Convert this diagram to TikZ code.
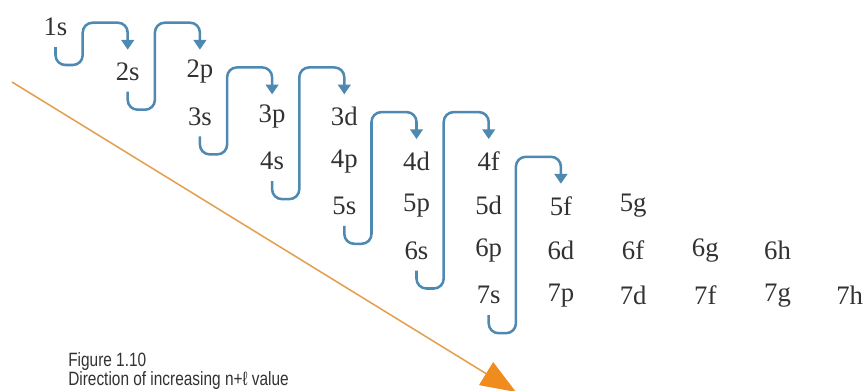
\documentclass[tikz,border=0pt]{standalone}
\usepackage{fontspec}
\newfontfamily\capfont[FakeStretch=0.8]{Liberation Sans}
\newfontfamily\orbfont{Liberation Serif}
\usetikzlibrary{arrows.meta,calc}

\definecolor{flowblue}{RGB}{78,137,178}
\definecolor{dirorange}{RGB}{240,140,30}
\definecolor{lineorange}{RGB}{226,160,80}
\definecolor{labelgray}{RGB}{50,50,50}

\tikzset{
  orb/.style={text=labelgray, font=\orbfont\fontsize{19}{22}\selectfont, inner sep=0pt},
  conn/.style={draw=flowblue, line width=1.8pt, rounded corners=7pt,
    -{Triangle[width=9pt,length=7pt]}},
  dirline/.style={draw=lineorange, line width=1.1pt,
    -{Triangle[width=19pt,length=25pt,color=dirorange]}},
  caption/.style={text=labelgray, font=\capfont\fontsize{13.7}{16}\selectfont,
    inner sep=0pt, anchor=base west},
}

\begin{document}
\begin{tikzpicture}[x=0.025cm,y=-0.025cm]
\useasboundingbox (0,0) rectangle (867,390);

% Orbitals, one row per shell
\foreach \n/\orbs in {1/{s},2/{s,p},3/{s,p,d},4/{s,p,d,f},5/{s,p,d,f,g},6/{s,p,d,f,g,h},7/{s,p,d,f,g,h}}
  \foreach \l [count=\c from 0] in \orbs
    \node[orb] (o\n\l) at ({55.5+72.2*(\n-1+\c)},{27+44.7*(\n-1)}) {\n\l};

% Filling order
\foreach \a/\b in {1s/2s,2s/2p,3s/3p,4s/3d,5s/4d,6s/4f,7s/5f}
  \draw[conn] ($(o\a)+(0,20)$) -- ++(0,18) -| ($(o\b)+(-45,-49)$) -| ($(o\b)+(0,-22)$);

% Direction arrow
\coordinate (dstart) at (12,82);
\coordinate (dend) at (516,392);
\draw[dirline] (dstart) -- (dend);

% Caption
\node[caption] (fig) at (68,366) {Figure 1.10};
\node[caption] (dir) at (68,385) {Direction of increasing n+ℓ value};

\end{tikzpicture}
\end{document}
